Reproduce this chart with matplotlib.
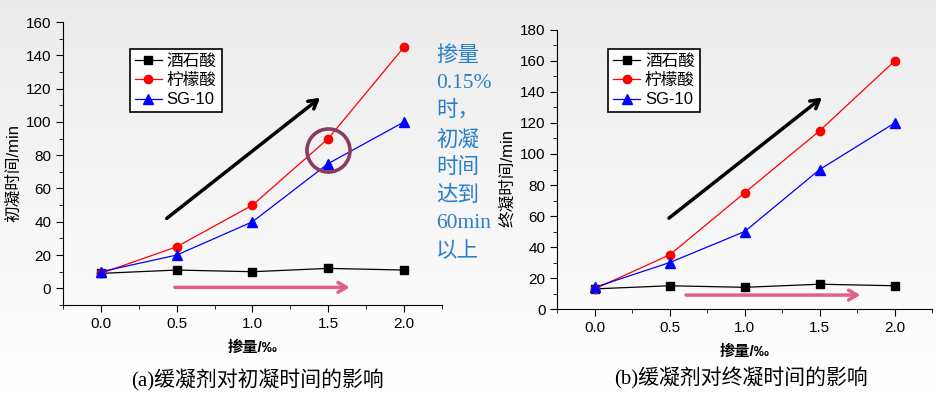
import numpy as np
import matplotlib
matplotlib.use("Agg")
import matplotlib.pyplot as plt
from matplotlib.ticker import MultipleLocator

plt.rcParams['font.family'] = ['Liberation Sans', 'Noto Sans CJK SC']

# ── Data ──────────────────────────────────────────────────────────────────────
dosage   = [0.0, 0.5, 1.0, 1.5, 2.0]
names    = ["酒石酸", "柠檬酸", "SG-10"]

init_tartaric = [9, 11, 10, 12, 11]
init_citric   = [9, 25, 50, 90, 145]
init_sg10     = [10, 20, 40, 75, 100]

final_tartaric = [13, 15, 14, 16, 15]
final_citric   = [13, 35, 75, 115, 160]
final_sg10     = [14, 30, 50, 90, 120]

note_lines = ["掺量", "0.15%", "时，", "初凝", "时间", "达到", "60min", "以上"]

STYLES = [("black", "s", 6), ("red", "o", 6), ("blue", "^", 7)]
CJK_SERIF = ['Liberation Serif', 'Noto Sans CJK SC']
ARROW = "->,head_length=0.6,head_width=0.35"

fig = plt.figure(figsize=(9.37, 3.93), dpi=100)

# background gradient
bg = fig.add_axes([0, 0, 1, 1], zorder=-10)
grad = np.linspace(0.925, 1.0, 256).reshape(-1, 1)
bg.imshow(np.dstack([grad, grad, grad]), aspect="auto", extent=[0, 1, 0, 1])
bg.axis("off")


def draw_panel(rect, series, ylim, ymax_tick, ylabel, leg_anchor, ylab_xy):
    ax = fig.add_axes(rect)
    ax.patch.set_alpha(0)
    for vals, (c, m, ms), name in zip(series, STYLES, names):
        ax.plot(dosage, vals, color=c, marker=m, markersize=ms, linewidth=0.9, label=name)
    ax.set_xlim(-0.25, 2.25)
    ax.set_ylim(*ylim)
    ax.set_xticks(dosage)
    ax.set_xticklabels([f"{d:.1f}" for d in dosage])
    ax.xaxis.set_minor_locator(MultipleLocator(0.25))
    ax.set_yticks(np.arange(0, ymax_tick + 1, 20))
    ax.yaxis.set_minor_locator(MultipleLocator(10))
    ax.spines["top"].set_visible(False)
    ax.spines["right"].set_visible(False)
    ax.tick_params(which="major", direction="out", length=5, labelsize=11)
    ax.tick_params(which="minor", direction="out", length=3)
    ax.set_ylabel(ylabel, fontsize=12)
    ax.yaxis.set_label_coords(*ylab_xy)
    ax.set_xlabel("掺量/‰", fontsize=11, fontweight="bold", labelpad=7)
    leg = ax.legend(loc="upper left", bbox_to_anchor=leg_anchor, borderaxespad=0,
                    fontsize=12, frameon=True, fancybox=False, edgecolor="black",
                    handlelength=1.6, borderpad=0.3, labelspacing=0.25,
                    handletextpad=0.3)
    leg.get_frame().set_linewidth(1.2)
    leg.get_frame().set_alpha(None)
    return ax


# ── Panel (a) ─────────────────────────────────────────────────────────────────
ax1 = draw_panel([0.0672, 0.2239, 0.4045, 0.720],
                 [init_tartaric, init_citric, init_sg10], (-10, 160), 160,
                 "初凝时间/min", (0.177, 0.905), (-0.11, 0.466))
ax1.annotate("", xy=(1.46, 115.5), xytext=(0.42, 41),
             arrowprops=dict(arrowstyle=ARROW, color="black", lw=2.5))
ax1.annotate("", xy=(1.66, 0.6), xytext=(0.47, 0.6),
             arrowprops=dict(arrowstyle=ARROW, color="#e0608c", lw=2.5))
ax1.plot([1.5], [83], marker="o", markersize=31, markerfacecolor="none",
         markeredgecolor="#8b3a62", markeredgewidth=2.6, clip_on=False)

# ── Panel (b) ─────────────────────────────────────────────────────────────────
ax2 = draw_panel([0.5948, 0.2137, 0.400, 0.710],
                 [final_tartaric, final_citric, final_sg10], (0, 180), 180,
                 "终凝时间/min", (0.136, 0.932), (-0.113, 0.47))
ax2.annotate("", xy=(1.53, 137.5), xytext=(0.48, 57.5),
             arrowprops=dict(arrowstyle=ARROW, color="black", lw=2.5))
ax2.annotate("", xy=(1.79, 9), xytext=(0.59, 9),
             arrowprops=dict(arrowstyle=ARROW, color="#e0608c", lw=2.5))

# ── Blue note ─────────────────────────────────────────────────────────────────
for i, t in enumerate(note_lines):
    fig.text(436 / 937, 1 - (56 + i * 28) / 393, t, fontsize=15.5, color="#2a7fc8",
             family=CJK_SERIF, ha="left", va="center")

# ── Captions ──────────────────────────────────────────────────────────────────
fig.text(258 / 937, 1 - 380 / 393, "(a)缓凝剂对初凝时间的影响", fontsize=15,
         family=CJK_SERIF, ha="center", va="center")
fig.text(741 / 937, 1 - 378 / 393, "(b)缓凝剂对终凝时间的影响", fontsize=15,
         family=CJK_SERIF, ha="center", va="center")

fig.savefig("out.png", dpi=100)
